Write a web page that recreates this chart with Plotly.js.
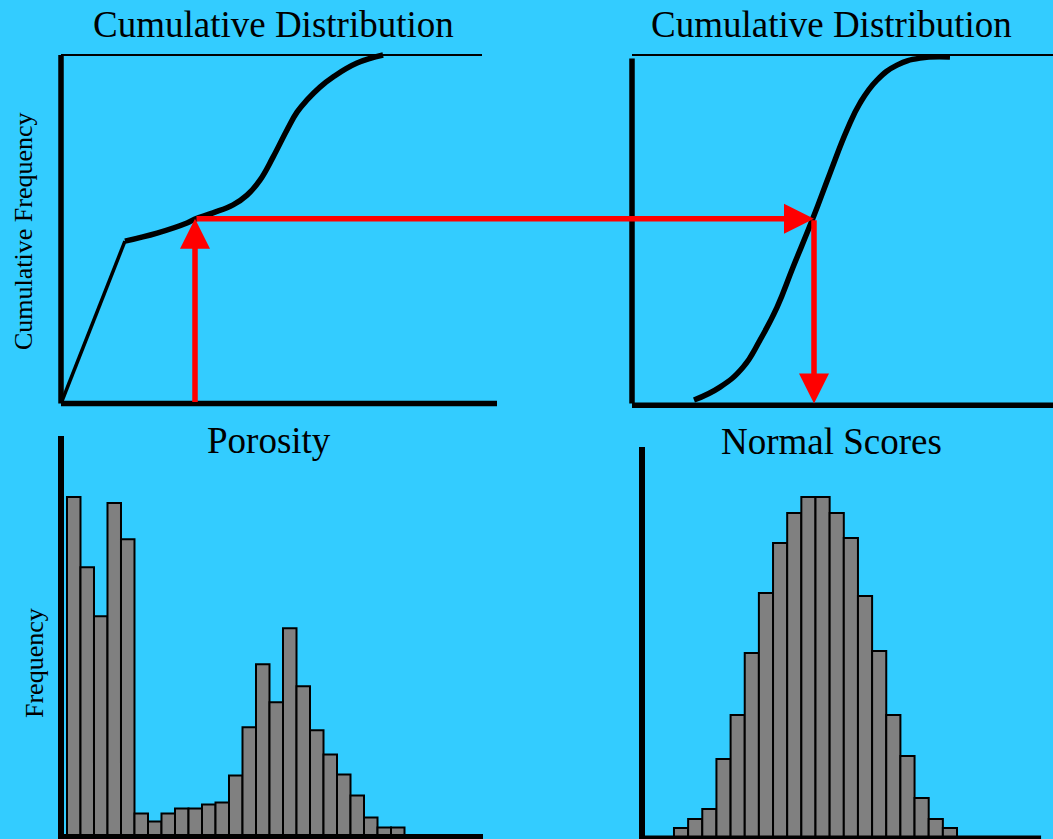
<!DOCTYPE html>
<html>
<head>
<meta charset="utf-8">
<script src="https://cdn.plot.ly/plotly-3.0.1.min.js"></script>
<style>
  html, body { margin: 0; padding: 0; background: #33CCFF; }
  #chart { width: 1053px; height: 839px; }
</style>
</head>
<body>
<div id="chart"></div>
<script>
// ---------------- data ----------------
// Top-left: cumulative distribution of porosity (porosity %, cumulative fraction)
const porosityCdfX = [0, 4.40, 6.61, 8.67, 9.22, 10.46, 11.84, 12.80, 13.69, 14.59, 15.55, 16.24, 16.93, 17.82, 18.72, 20.37, 22.16];
const porosityCdfY = [0, 0.466, 0.489, 0.518, 0.529, 0.547, 0.570, 0.598, 0.641, 0.707, 0.785, 0.836, 0.871, 0.908, 0.937, 0.977, 1.0];

// Top-right: cumulative distribution of normal scores
const normalCdfX = [-2.26, -1.74, -1.28, -0.94, -0.60, -0.28, 0.12, 0.46, 0.80, 1.06, 1.40, 1.80, 2.26, 2.86];
const normalCdfY = [0.010, 0.047, 0.104, 0.182, 0.276, 0.391, 0.532, 0.661, 0.785, 0.862, 0.928, 0.971, 0.991, 0.994];

// Bottom-left: porosity histogram (bin centres, frequency %)
const porosityBins = [0.5, 1.5, 2.5, 3.5, 4.5, 5.5, 6.5, 7.5, 8.5, 9.5, 10.5, 11.5, 12.5, 13.5, 14.5, 15.5, 16.5, 17.5, 18.5, 19.5, 20.5, 21.5, 22.5, 23.5, 24.5];
const porosityFreq = [33.9, 26.9, 22.0, 33.3, 29.7, 2.3, 1.5, 2.3, 2.8, 2.8, 3.2, 3.4, 6.1, 10.9, 17.2, 13.4, 20.8, 15.0, 10.6, 8.2, 6.2, 4.1, 1.9, 0.9, 0.9];

// Bottom-right: normal-score histogram (bin centres, frequency %)
const normalBins = [-2.85, -2.55, -2.25, -1.95, -1.65, -1.35, -1.05, -0.75, -0.45, -0.15, 0.15, 0.45, 0.75, 1.05, 1.35, 1.65, 1.95, 2.25, 2.55, 2.85];
const normalFreq = [1.0, 1.9, 2.9, 7.9, 12.3, 18.5, 24.5, 29.5, 32.5, 34.1, 34.1, 32.5, 30.0, 24.2, 18.7, 12.3, 8.2, 4.0, 1.9, 1.0];

// The transform being illustrated
const porosityQuery = 9.22;
const cdfQuery = 0.53;
const normalQuery = 0.14;

// Text
const titles = ["Cumulative Distribution", "Cumulative Distribution", "Porosity", "Normal Scores"];
const yLabels = ["Cumulative Frequency", "Frequency"];

// ---------------- layout helpers ----------------
const W = 1053, H = 839;
const px = v => v / W;
const py = v => 1 - v / H;

const BG = '#33CCFF';
const SERIF = 'Liberation Serif, Times New Roman, serif';

function hiddenAxis(extra) {
  return Object.assign({
    showgrid: false, zeroline: false, showticklabels: false, ticks: '',
    showline: false, fixedrange: true
  }, extra);
}

// top panels: cdf 0 at px 403.5, 1 at px 55 (348.5 px per unit); domain padded a little
const topPxPerUnit = 348.5;
const topDomain = [py(410), py(45)];
const topRange = [-(410 - 403.5) / topPxPerUnit, (403.5 - 45) / topPxPerUnit];

const layout = {
  width: W, height: H,
  margin: {l: 0, r: 0, t: 0, b: 0},
  paper_bgcolor: BG, plot_bgcolor: 'rgba(0,0,0,0)',
  showlegend: false,
  bargap: 0,
  xaxis:  hiddenAxis({domain: [px(61), px(497)], range: [0, 30], anchor: 'y'}),
  yaxis:  hiddenAxis({domain: topDomain, range: topRange, anchor: 'x'}),
  xaxis2: hiddenAxis({domain: [px(632), 1], range: [-3.5, 4.92], anchor: 'y2'}),
  yaxis2: hiddenAxis({domain: topDomain, range: topRange, anchor: 'x2'}),
  xaxis3: hiddenAxis({domain: [px(61), px(483)], range: [-0.444, 30.815], anchor: 'y3'}),
  yaxis3: hiddenAxis({domain: [py(836.5), py(436)], range: [0, 40], anchor: 'x3'}),
  xaxis4: hiddenAxis({domain: [px(642), 1], range: [-3.678, 5.035], anchor: 'y4'}),
  yaxis4: hiddenAxis({domain: [py(838), py(447)], range: [0, 39.1], anchor: 'x4'}),
  shapes: [],
  annotations: []
};

// frame lines
function frameLine(xref, yref, x0, x1, y0, y1, w) {
  return {type: 'line', xref: xref, yref: yref, x0: x0, x1: x1, y0: y0, y1: y1,
          line: {color: 'black', width: w}, layer: 'above'};
}
layout.shapes.push(
  // top-left
  frameLine('x domain', 'y', 0, 0, 0, 1, 5.5),
  frameLine('x domain', 'y', 0, 1, 0, 0, 5.5),
  frameLine('x domain', 'y', 0, 0.9656, 1, 1, 2),
  // top-right
  frameLine('x2 domain', 'y2', 0, 0, 0, 0.99, 5.5),
  frameLine('x2 domain', 'y2', 0, 1, -0.005, -0.005, 5.5),
  frameLine('x2 domain', 'y2', 0, 1, 1, 1, 2),
  // bottom-left
  frameLine('x3 domain', 'y3 domain', 0, 0, -0.01, 1, 6),
  frameLine('x3 domain', 'y3 domain', 0, 1, 0, 0, 5),
  // bottom-right
  frameLine('x4 domain', 'y4 domain', 0, 0, -0.01, 1, 6),
  frameLine('x4 domain', 'y4 domain', 0, 0.971, 0, 0, 5)
);

// titles
const titlePos = [[273.5, 24.5], [831, 24.5], [268.5, 440.5], [831, 441.5]];
titles.forEach((t, i) => {
  layout.annotations.push({
    text: t, xref: 'paper', yref: 'paper', x: px(titlePos[i][0]), y: py(titlePos[i][1]),
    xanchor: 'center', yanchor: 'middle', showarrow: false,
    font: {family: SERIF, size: 37, color: 'black'}
  });
});
// y labels
const yLabelPos = [[23, 231], [34, 663]];
yLabels.forEach((t, i) => {
  layout.annotations.push({
    text: t, xref: 'paper', yref: 'paper', x: px(yLabelPos[i][0]), y: py(yLabelPos[i][1]),
    xanchor: 'center', yanchor: 'middle', showarrow: false, textangle: -90,
    font: {family: SERIF, size: 26, color: 'black'}
  });
});

// arrows
const arrowStyle = {showarrow: true, text: '', arrowhead: 2, arrowsize: 1.09, arrowwidth: 5.5, arrowcolor: '#FF0000'};
function toPaperX(v, ax) {
  return ax.domain[0] + (v - ax.range[0]) / (ax.range[1] - ax.range[0]) * (ax.domain[1] - ax.domain[0]);
}
// up: porosity value -> cdf
layout.annotations.push(Object.assign({}, arrowStyle, {
  xref: 'x', yref: 'y', x: porosityQuery, y: cdfQuery,
  axref: 'x', ayref: 'y', ax: porosityQuery, ay: 0
}));
// across: cdf of porosity -> same cdf on normal curve
const tailOffset = (toPaperX(porosityQuery, layout.xaxis) - toPaperX(normalQuery, layout.xaxis2)) * W;
layout.annotations.push(Object.assign({}, arrowStyle, {
  xref: 'x2', yref: 'y2', x: normalQuery, y: cdfQuery,
  axref: 'pixel', ayref: 'pixel', ax: tailOffset, ay: 0
}));
// down: normal score
layout.annotations.push(Object.assign({}, arrowStyle, {
  xref: 'x2', yref: 'y2', x: normalQuery, y: 0,
  axref: 'x2', ayref: 'y2', ax: normalQuery, ay: cdfQuery
}));

// ---------------- traces ----------------
const traces = [
  { // steep linear part of porosity cdf
    type: 'scatter', mode: 'lines', xaxis: 'x', yaxis: 'y',
    x: porosityCdfX.slice(0, 2), y: porosityCdfY.slice(0, 2),
    line: {color: 'black', width: 3.5}, hoverinfo: 'skip'
  },
  { // smooth remainder of porosity cdf
    type: 'scatter', mode: 'lines', xaxis: 'x', yaxis: 'y',
    x: porosityCdfX.slice(1), y: porosityCdfY.slice(1),
    line: {color: 'black', width: 5.5, shape: 'spline', smoothing: 1.2}, hoverinfo: 'skip'
  },
  {
    type: 'scatter', mode: 'lines', xaxis: 'x2', yaxis: 'y2',
    x: normalCdfX, y: normalCdfY,
    line: {color: 'black', width: 5.5, shape: 'spline', smoothing: 1.3}, hoverinfo: 'skip'
  },
  {
    type: 'bar', xaxis: 'x3', yaxis: 'y3', x: porosityBins, y: porosityFreq,
    marker: {color: '#808080', line: {color: 'black', width: 2}}, hoverinfo: 'skip'
  },
  {
    type: 'bar', xaxis: 'x4', yaxis: 'y4', x: normalBins, y: normalFreq,
    marker: {color: '#808080', line: {color: 'black', width: 2}}, hoverinfo: 'skip'
  }
];

Plotly.newPlot('chart', traces, layout, {staticPlot: true, displayModeBar: false});
</script>
</body>
</html>
